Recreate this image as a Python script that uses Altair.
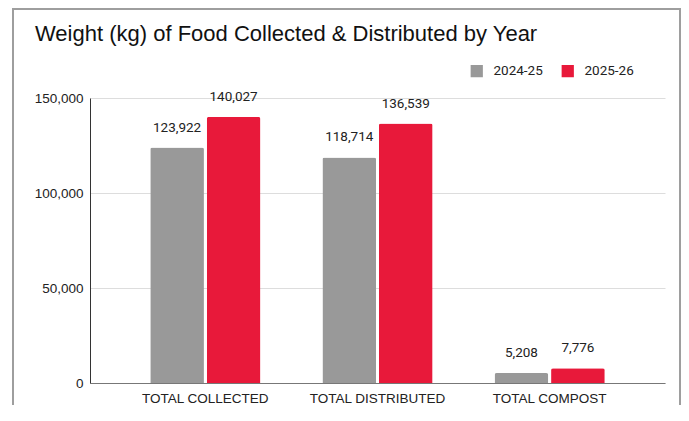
import altair as alt
import pandas as pd

categories = ["TOTAL COLLECTED", "TOTAL DISTRIBUTED", "TOTAL COMPOST"]
years = ["2024-25", "2025-26"]
v2024 = [123922, 118714, 5208]
v2025 = [140027, 136539, 7776]
colors = ["#999999", "#E8193A"]
y_ticks = [0, 50000, 100000, 150000]

rows = []
for i, c in enumerate(categories):
    rows.append({"category": c, "year": years[0], "value": v2024[i]})
    rows.append({"category": c, "year": years[1], "value": v2025[i]})
df = pd.DataFrame(rows)

W, H = 575, 285

base = alt.Chart(df).encode(
    x=alt.X("category:N", sort=categories, title=None,
            scale=alt.Scale(paddingInner=0.36, paddingOuter=0.35),
            axis=alt.Axis(labelAngle=0, ticks=False, domainColor="#777777",
                          labelFont="Liberation Sans", labelFontSize=13.5,
                          labelColor="#222222", labelPadding=8, grid=False)),
    xOffset=alt.XOffset("year:N", sort=years, scale=alt.Scale(paddingInner=0.05)),
    y=alt.Y("value:Q", title=None,
            scale=alt.Scale(domain=[0, 150000], nice=False),
            axis=alt.Axis(values=y_ticks, format=",.0f", ticks=False,
                          domainColor="#333333", gridColor="#dddddd",
                          labelFont="Liberation Sans", labelFontSize=13.5,
                          labelColor="#222222", labelPadding=7)),
)

bars = base.mark_bar(cornerRadiusTopLeft=2, cornerRadiusTopRight=2).encode(
    color=alt.Color("year:N", sort=years,
                    scale=alt.Scale(domain=years, range=colors),
                    legend=alt.Legend(title=None, orient="none", direction="horizontal",
                                      legendX=380, legendY=-34, symbolType="square",
                                      symbolSize=150, symbolStrokeWidth=0,
                                      labelFont="Roboto", labelFontSize=13.5,
                                      labelColor="#222222", labelOffset=10,
                                      columnPadding=18, padding=0))
)

labels = base.mark_text(baseline="alphabetic", dy=-16, font="Roboto",
                        fontSize=13.5, color="#222222").encode(
    text=alt.Text("value:Q", format=",.0f")
)

border = alt.Chart(pd.DataFrame({"a": [0]})).mark_rect(
    fillOpacity=0, stroke="#9e9e9e", strokeWidth=2
).encode(x=alt.value(-77), x2=alt.value(590), y=alt.value(-89), y2=alt.value(H + 60))

chart = alt.layer(border, bars, labels).properties(
    width=W, height=H,
    title=alt.Title("Weight (kg) of Food Collected & Distributed by Year",
                    anchor="start", frame="group", fontSize=22,
                    font="Liberation Sans", fontWeight="normal", color="#111111",
                    baseline="alphabetic", dx=-55, dy=55, offset=0),
    autosize=alt.AutoSizeParams(type="none"),
    padding={"left": 82, "top": 90, "right": 16, "bottom": 22},
).configure_view(stroke=None)

chart.save("out.html", embed_options={"renderer": "svg", "actions": False})
